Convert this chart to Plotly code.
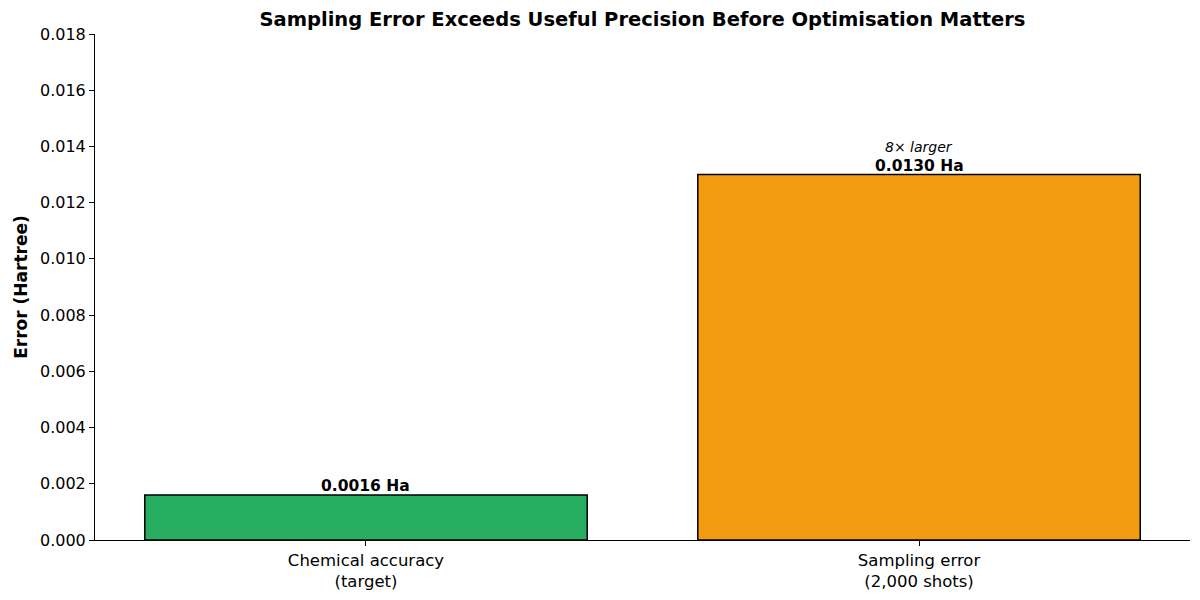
import plotly.graph_objects as go

categories = ["Chemical accuracy<br>(target)", "Sampling error<br>(2,000 shots)"]
values = [0.0016, 0.0130]
colors = ["#27ae60", "#f39c12"]
value_labels = ["0.0016 Ha", "0.0130 Ha"]
ratio_label = "8× larger"
y_ticks = [0.000, 0.002, 0.004, 0.006, 0.008, 0.010, 0.012, 0.014, 0.016, 0.018]

xpos = list(range(len(categories)))

fig = go.Figure()
fig.add_trace(go.Bar(
    x=xpos, y=values, width=0.8,
    marker=dict(color=colors, line=dict(color="black", width=1.5)),
    showlegend=False,
))

for i, (v, lab) in enumerate(zip(values, value_labels)):
    fig.add_annotation(x=i, y=v, text=f"<b>{lab}</b>", showarrow=False,
                       yanchor="bottom", yshift=-2,
                       font=dict(family="DejaVu Sans", size=15.5, color="black"))

fig.add_annotation(x=1, y=values[1], text=f"<i>{ratio_label}</i>", showarrow=False,
                   yanchor="bottom", yshift=18,
                   font=dict(family="DejaVu Sans", size=14, color="black"))

fig.update_layout(
    width=1200, height=600,
    margin=dict(l=82, r=18, t=26, b=68),
    plot_bgcolor="white", paper_bgcolor="white",
    font=dict(family="DejaVu Sans", color="black"),
    title=dict(text="<b>Sampling Error Exceeds Useful Precision Before Optimisation Matters</b>",
               x=0.5, xref="paper", xanchor="center", yref="container", y=0.982, yanchor="middle",
               font=dict(size=19.5, family="DejaVu Sans", color="black")),
    bargap=0.2,
)
fig.update_xaxes(
    range=[-0.49, 1.49], tickmode="array", tickvals=xpos, ticktext=categories,
    showline=True, linecolor="black", linewidth=1, ticks="outside", ticklen=5,
    tickcolor="black", showgrid=False, zeroline=False,
    tickfont=dict(size=16.5, family="DejaVu Sans", color="black"),
)
fig.update_yaxes(
    range=[0, 0.018], tickmode="array", tickvals=y_ticks,
    ticktext=[f"{t:.3f}" for t in y_ticks],
    showline=True, linecolor="black", linewidth=1, ticks="outside", ticklen=5,
    tickcolor="black", showgrid=False, zeroline=False,
    tickfont=dict(size=16, family="DejaVu Sans", color="black"),
    title=dict(text="<b>Error (Hartree)</b>", font=dict(size=17, family="DejaVu Sans", color="black"), standoff=8),
)

fig.write_html("out.html")
